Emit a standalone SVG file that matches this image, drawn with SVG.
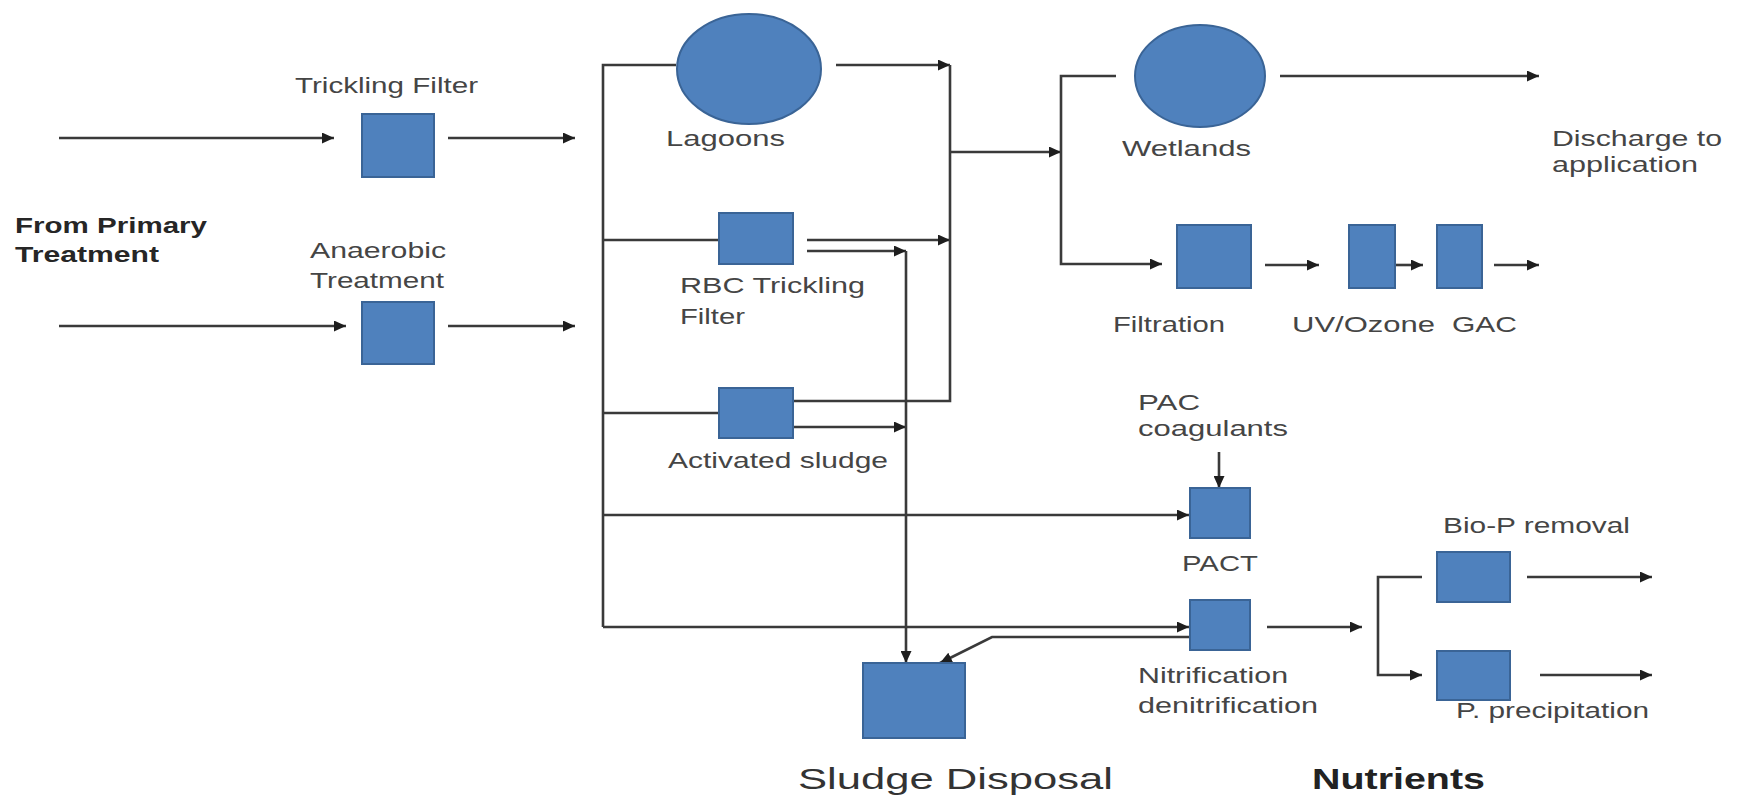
<svg xmlns="http://www.w3.org/2000/svg" width="1746" height="806" viewBox="0 0 1746 806">
<style>
.box{fill:#4F81BD;stroke:#3A6496;stroke-width:2}
.ln{fill:none;stroke:#3a3a3a;stroke-width:2.6}
.ar{marker-end:url(#ah)}
.t{font-family:"Liberation Sans",Arial,sans-serif;font-size:22px;fill:#454545}
.b{font-family:"Liberation Sans",Arial,sans-serif;font-size:22px;font-weight:bold;fill:#262626}
.big{font-family:"Liberation Sans",Arial,sans-serif;font-size:30px;fill:#333}
.bigb{font-family:"Liberation Sans",Arial,sans-serif;font-size:30px;font-weight:bold;fill:#222}
</style>
<defs>
<marker id="ah" markerUnits="userSpaceOnUse" markerWidth="13" markerHeight="11" refX="12" refY="5.5" orient="auto">
<path d="M0,0 L12,5.5 L0,11 z" fill="#1e1e1e"/>
</marker>
</defs>
<rect width="1746" height="806" fill="#fff"/>

<g id="connectors">
<line class="ln ar" x1="59" y1="138" x2="334" y2="138"/>
<line class="ln ar" x1="448" y1="138" x2="575" y2="138"/>
<line class="ln ar" x1="59" y1="326" x2="346" y2="326"/>
<line class="ln ar" x1="448" y1="326" x2="575" y2="326"/>
<polyline class="ln" points="676,65 603,65 603,627"/>
<line class="ln" x1="603" y1="240" x2="718" y2="240"/>
<line class="ln" x1="603" y1="413" x2="718" y2="413"/>
<line class="ln ar" x1="603" y1="515" x2="1189" y2="515"/>
<line class="ln ar" x1="603" y1="627" x2="1189" y2="627"/>
<line class="ln ar" x1="836" y1="65" x2="950" y2="65"/>
<line class="ln ar" x1="807" y1="240" x2="950" y2="240"/>
<line class="ln ar" x1="807" y1="251" x2="906" y2="251"/>
<polyline class="ln" points="793,401 950,401 950,65"/>
<line class="ln ar" x1="793" y1="427" x2="906" y2="427"/>
<line class="ln ar" x1="906" y1="251" x2="906" y2="663"/>
<polyline class="ln ar" points="1190,637 992,637 940,663"/>
<line class="ln ar" x1="950" y1="152" x2="1061" y2="152"/>
<polyline class="ln ar" points="1116,76 1061,76 1061,264 1162,264"/>
<line class="ln ar" x1="1280" y1="76" x2="1539" y2="76"/>
<line class="ln ar" x1="1265" y1="265" x2="1319" y2="265"/>
<line class="ln ar" x1="1395" y1="265" x2="1423" y2="265"/>
<line class="ln ar" x1="1494" y1="265" x2="1539" y2="265"/>
<line class="ln ar" x1="1219" y1="452" x2="1219" y2="488"/>
<line class="ln ar" x1="1267" y1="627" x2="1362" y2="627"/>
<polyline class="ln ar" points="1422,577 1378,577 1378,675 1422,675"/>
<line class="ln ar" x1="1527" y1="577" x2="1652" y2="577"/>
<line class="ln ar" x1="1540" y1="675" x2="1652" y2="675"/>
</g>

<g id="from-primary">
<text class="b" x="15" y="233" textLength="192" lengthAdjust="spacingAndGlyphs">From Primary</text>
<text class="b" x="15" y="262" textLength="144" lengthAdjust="spacingAndGlyphs">Treatment</text>
</g>
<g id="trickling-filter">
<rect class="box" x="362" y="114" width="72" height="63"/>
<text class="t" x="295" y="93" textLength="183" lengthAdjust="spacingAndGlyphs">Trickling Filter</text>
</g>
<g id="anaerobic">
<rect class="box" x="362" y="302" width="72" height="62"/>
<text class="t" x="310" y="258" textLength="136" lengthAdjust="spacingAndGlyphs">Anaerobic</text>
<text class="t" x="310" y="288" textLength="134" lengthAdjust="spacingAndGlyphs">Treatment</text>
</g>
<g id="lagoons">
<ellipse class="box" cx="749" cy="69" rx="72" ry="55"/>
<text class="t" x="666" y="146" textLength="119" lengthAdjust="spacingAndGlyphs">Lagoons</text>
</g>
<g id="rbc">
<rect class="box" x="719" y="213" width="74" height="51"/>
<text class="t" x="680" y="293" textLength="185" lengthAdjust="spacingAndGlyphs">RBC Trickling</text>
<text class="t" x="680" y="324" textLength="65" lengthAdjust="spacingAndGlyphs">Filter</text>
</g>
<g id="activated-sludge">
<rect class="box" x="719" y="388" width="74" height="50"/>
<text class="t" x="668" y="468" textLength="220" lengthAdjust="spacingAndGlyphs">Activated sludge</text>
</g>
<g id="wetlands">
<ellipse class="box" cx="1200" cy="76" rx="65" ry="51"/>
<text class="t" x="1122" y="156" textLength="129" lengthAdjust="spacingAndGlyphs">Wetlands</text>
</g>
<g id="discharge">
<text class="t" x="1552" y="146" textLength="170" lengthAdjust="spacingAndGlyphs">Discharge to</text>
<text class="t" x="1552" y="172" textLength="146" lengthAdjust="spacingAndGlyphs">application</text>
</g>
<g id="filtration">
<rect class="box" x="1177" y="225" width="74" height="63"/>
<text class="t" x="1113" y="332" textLength="112" lengthAdjust="spacingAndGlyphs">Filtration</text>
</g>
<g id="uv-ozone">
<rect class="box" x="1349" y="225" width="46" height="63"/>
<text class="t" x="1292" y="332" textLength="143" lengthAdjust="spacingAndGlyphs">UV/Ozone</text>
</g>
<g id="gac">
<rect class="box" x="1437" y="225" width="45" height="63"/>
<text class="t" x="1452" y="332" textLength="65" lengthAdjust="spacingAndGlyphs">GAC</text>
</g>
<g id="pac-coagulants">
<text class="t" x="1138" y="410" textLength="62" lengthAdjust="spacingAndGlyphs">PAC</text>
<text class="t" x="1138" y="436" textLength="150" lengthAdjust="spacingAndGlyphs">coagulants</text>
</g>
<g id="pact">
<rect class="box" x="1190" y="488" width="60" height="50"/>
<text class="t" x="1182" y="571" textLength="76" lengthAdjust="spacingAndGlyphs">PACT</text>
</g>
<g id="nitrification">
<rect class="box" x="1190" y="600" width="60" height="50"/>
<text class="t" x="1138" y="683" textLength="150" lengthAdjust="spacingAndGlyphs">Nitrification</text>
<text class="t" x="1138" y="713" textLength="180" lengthAdjust="spacingAndGlyphs">denitrification</text>
</g>
<g id="sludge-disposal">
<rect class="box" x="863" y="663" width="102" height="75"/>
<text class="big" x="798" y="789" textLength="315" lengthAdjust="spacingAndGlyphs">Sludge Disposal</text>
</g>
<g id="bio-p">
<rect class="box" x="1437" y="552" width="73" height="50"/>
<text class="t" x="1443" y="533" textLength="187" lengthAdjust="spacingAndGlyphs">Bio-P removal</text>
</g>
<g id="p-precipitation">
<rect class="box" x="1437" y="651" width="73" height="49"/>
<text class="t" x="1456" y="718" textLength="193" lengthAdjust="spacingAndGlyphs">P. precipitation</text>
</g>
<g id="nutrients">
<text class="bigb" x="1312" y="789" textLength="173" lengthAdjust="spacingAndGlyphs">Nutrients</text>
</g>
</svg>
